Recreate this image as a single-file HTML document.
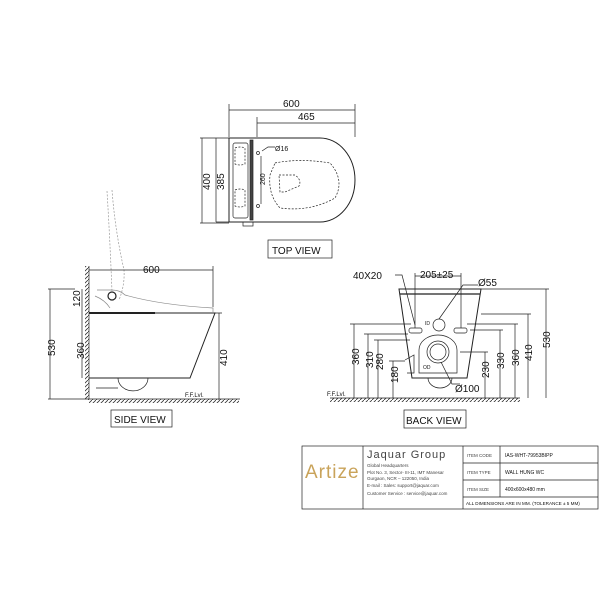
<!DOCTYPE html>
<html><head><style>
html,body{margin:0;padding:0;background:#fff;}
svg{display:block;font-family:"Liberation Sans",sans-serif;}
</style></head><body>
<svg width="600" height="600" viewBox="0 0 600 600" xmlns="http://www.w3.org/2000/svg">
<defs>
<pattern id="h" width="4" height="4" patternUnits="userSpaceOnUse"><path d="M0 4L4 0" stroke="#333" stroke-width="0.8"/></pattern>
</defs>
<g fill="none" stroke="#222" stroke-width="0.7">
<!-- TOP VIEW -->
<path d="M229 138 H320 A35 42 0 0 1 320 222 H229 Z" stroke-width="1"/>
<rect x="233" y="143" width="15" height="75" rx="2"/>
<rect x="250" y="140" width="3" height="80" fill="#444"/>
<rect x="243" y="222" width="10" height="4"/>
<path d="M235 148 q5 -2 10 0 v16 q-5 2 -10 0z M235 190 q5 -2 10 0 v16 q-5 2 -10 0z" stroke-dasharray="2,1.5"/>
<path d="M275 163 Q300 158 330 163 Q345 180 335 198 Q310 212 280 208 Q268 195 270 175 Z" stroke-dasharray="2,1.5"/>
<path d="M279 175 H295 Q302 180 299 186 L285 192 H280 Z" stroke-dasharray="2,1.5"/>
<circle cx="258" cy="153" r="1.5"/><circle cx="258" cy="206" r="1.5"/>
<path d="M262 151 L268 147 H275"/>
<path d="M261 156 V204"/>
<path d="M229 137 V104 M355 137 V104 M229 110 H355 M257 137 V117 M257 123 H355"/>
<path d="M200 138 H229 M200 223 H229 M202 138 V223 M216 138 V222 M216 222 H235"/>
<!-- SIDE VIEW -->
<rect x="85" y="266" width="4" height="134" fill="url(#h)" stroke="none"/>
<rect x="89" y="399" width="150" height="4" fill="url(#h)" stroke="none"/>
<path d="M89 266 V399 H240"/>
<path d="M89 313 H215 L190 378 H89" stroke-width="1"/>
<path d="M89 313 H155" stroke-width="2"/>
<path d="M118 378 A14 12 0 0 0 148 378"/>
<path d="M112 290 Q120 290 125 295 Q160 305 213 308 V313" stroke="#888"/>
<path d="M97 290 H112 M95 296 Q105 300 110 308" stroke="#888"/>
<circle cx="112" cy="296" r="4" stroke-width="1.2"/>
<path d="M107 191 Q110 240 112 292 M112 190 Q115 230 124 270 Q125 285 119 300" stroke="#999" stroke-dasharray="2,1.5"/>
<path d="M89 270 H213 M213 266 V307"/>
<path d="M50 289 V399 M48 289 H75 M48 399 H89 M82 289 V313 M82 313 V378 M96 388 H118"/>
<path d="M219 313 V400 M215 313 H222"/>
<!-- BACK VIEW -->
<path d="M399 289 H481 L467 378 H412 Z" stroke-width="1"/>
<path d="M400 294 H480" stroke-width="1.3"/>
<circle cx="439" cy="325" r="6"/>
<rect x="409" y="328" width="13" height="5" rx="2"/><rect x="454" y="328" width="13" height="5" rx="2"/>
<path d="M419 373 V350 A19 15 0 0 1 457 350 V373 Z"/>
<circle cx="438" cy="352" r="11"/><circle cx="438" cy="352" r="8"/>
<path d="M405 360 L414 355 V373 H407"/>
<path d="M428 378 A12 10 0 0 0 452 378"/>
<rect x="330" y="398" width="190" height="4" fill="url(#h)" stroke="none"/>
<path d="M330 398 H520"/>
<path d="M354 324 V398 M368 334 V398 M378 340 V398 M393 361 V398 M350 324 H411 M364 334 H408 M374 340 H410 M389 361 H405"/>
<path d="M485 352 V398 M500 330 V398 M515 324 V398 M528 314 V398 M546 289 V398 M460 352 H488 M470 330 H503 M467 324 H518 M481 314 H531 M481 289 H549"/>
<path d="M415 273 V328 M461 273 V328 M415 276 H461"/>
<path d="M395 275 H402 L415 325 M439 319 L463 285 H478 M441 362 L452 384 H460"/>
<!-- label boxes -->
<rect x="268" y="240" width="64" height="18"/>
<rect x="111" y="410" width="61" height="17"/>
<rect x="404" y="410" width="62" height="18"/>
<!-- title block -->
<rect x="302" y="446" width="296" height="63"/>
<path d="M363 446 V509 M463 446 V509 M500 446 V497 M463 463 H598 M463 480 H598 M463 497 H598"/>
</g>
<g fill="#111" font-size="10">
<text x="283" y="107">600</text>
<text x="298" y="120">465</text>
<text x="275" y="151" font-size="7">Ø16</text>
<text x="210" y="190" transform="rotate(-90 210 190)">400</text>
<text x="224" y="190" transform="rotate(-90 224 190)">385</text>
<text x="265" y="185" font-size="7" transform="rotate(-90 265 185)">260</text>
<text x="272" y="254">TOP VIEW</text>
<text x="143" y="273">600</text>
<text x="55" y="356" transform="rotate(-90 55 356)">530</text>
<text x="80" y="307" transform="rotate(-90 80 307)">120</text>
<text x="84" y="359" transform="rotate(-90 84 359)">360</text>
<text x="223" y="366" transform="rotate(-90 223 366)" dy="4">410</text>
<text x="185" y="397" font-size="6">F.F.Lvl.</text>
<text x="114" y="423">SIDE VIEW</text>
<text x="353" y="279">40X20</text>
<text x="420" y="278">205±25</text>
<text x="478" y="286">Ø55</text>
<text x="455" y="392">Ø100</text>
<text x="425" y="325" font-size="5">ID</text>
<text x="423" y="369" font-size="5">OD</text>
<text x="327" y="396" font-size="6">F.F.Lvl.</text>
<text x="359" y="365" transform="rotate(-90 359 365)">360</text>
<text x="373" y="368" transform="rotate(-90 373 368)">310</text>
<text x="383" y="370" transform="rotate(-90 383 370)">280</text>
<text x="398" y="383" transform="rotate(-90 398 383)">180</text>
<text x="489" y="378" transform="rotate(-90 489 378)">230</text>
<text x="504" y="369" transform="rotate(-90 504 369)">330</text>
<text x="519" y="366" transform="rotate(-90 519 366)">360</text>
<text x="532" y="361" transform="rotate(-90 532 361)">410</text>
<text x="550" y="348" transform="rotate(-90 550 348)">530</text>
<text x="406" y="424">BACK VIEW</text>
<text x="305" y="478" font-size="19" fill="#c9a35a" letter-spacing="1">Artize</text>
<text x="367" y="458" font-size="11" fill="#444" letter-spacing="1">Jaquar Group</text>
<g font-size="4.5" fill="#444">
<text x="367" y="467">Global Headquarters</text>
<text x="367" y="474">Plot No. 3, Sector- III-11, IMT Manesar</text>
<text x="367" y="480">Gurgaon, NCR – 122050, India</text>
<text x="367" y="487">E-mail : Sales: support@jaquar.com</text>
<text x="367" y="495">Customer Service : service@jaquar.com</text>
<text x="467" y="457">ITEM CODE</text>
<text x="467" y="474">ITEM TYPE</text>
<text x="467" y="491">ITEM SIZE</text>
</g>
<g font-size="5">
<text x="505" y="457">IAS-WHT-79953BIPP</text>
<text x="505" y="474">WALL HUNG WC</text>
<text x="505" y="491">400x600x480 mm</text>
<text x="466" y="505" font-size="4.6">ALL DIMENSIONS ARE IN MM. (TOLERANCE ± 5 MM)</text>
</g>
</g>
</svg>
</body></html>
